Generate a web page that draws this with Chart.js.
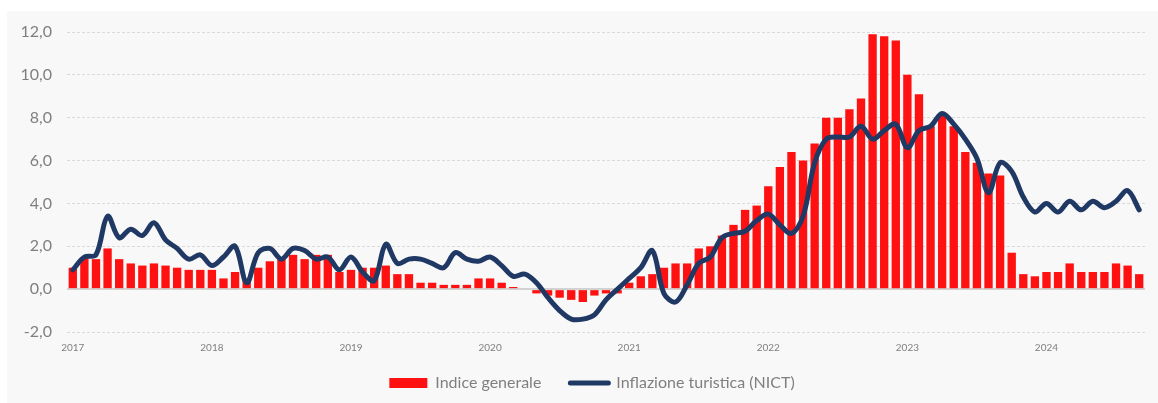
<!DOCTYPE html>
<html>
<head>
<meta charset="utf-8">
<script src="https://cdn.jsdelivr.net/npm/chart.js@4.4.1/dist/chart.umd.min.js"></script>
<style>
    html, body { margin: 0; padding: 0; background: #ffffff; }
    body { width: 1158px; height: 403px; overflow: hidden; position: relative; }
    #wrap { position: absolute; left: 7px; top: 11px; width: 1151px; height: 392px; background: #f8f8f8; }
</style>
</head>
<body>
<div id="wrap"><canvas id="myChart" width="1151" height="392"></canvas></div>
<script>
// years shown on the x axis (one label every 12 months)
let years = ['2017', '2018', '2019', '2020', '2021', '2022', '2023', '2024'];
let monthsInLastYear = 9; // data stops in Sep 2024

// Indice generale (bars), monthly, Jan 2017 - Sep 2024
let indiceGenerale = [
    1.0, 1.5, 1.4, 1.9, 1.4, 1.2, 1.1, 1.2, 1.1, 1.0, 0.9, 0.9,
    0.9, 0.5, 0.8, 0.5, 1.0, 1.3, 1.4, 1.6, 1.4, 1.6, 1.6, 0.8,
    0.9, 1.0, 1.0, 1.1, 0.7, 0.7, 0.3, 0.3, 0.2, 0.2, 0.2, 0.5,
    0.5, 0.3, 0.1, 0.0, -0.2, -0.3, -0.4, -0.5, -0.6, -0.3, -0.2, -0.2,
    0.3, 0.6, 0.7, 1.0, 1.2, 1.2, 1.9, 2.0, 2.5, 3.0, 3.7, 3.9,
    4.8, 5.7, 6.4, 6.0, 6.8, 8.0, 8.0, 8.4, 8.9, 11.9, 11.8, 11.6,
    10.0, 9.1, 7.6, 8.1, 7.6, 6.4, 5.9, 5.4, 5.3, 1.7, 0.7, 0.6,
    0.8, 0.8, 1.2, 0.8, 0.8, 0.8, 1.2, 1.1, 0.7
];

// Inflazione turistica (NICT), line
let inflazioneTuristica = [
    0.9, 1.5, 1.6, 3.4, 2.4, 2.8, 2.5, 3.1, 2.3, 1.9, 1.4, 1.6,
    1.1, 1.5, 2.0, 0.3, 1.7, 1.9, 1.4, 1.9, 1.8, 1.4, 1.5, 0.9,
    1.5, 0.8, 0.4, 2.1, 1.2, 1.4, 1.4, 1.2, 1.0, 1.7, 1.4, 1.3,
    1.5, 1.1, 0.6, 0.7, 0.3, -0.4, -1.0, -1.4, -1.4, -1.2, -0.5, 0.0,
    0.5, 1.0, 1.8, -0.2, -0.6, 0.2, 1.2, 1.5, 2.4, 2.6, 2.7, 3.2,
    3.5, 3.0, 2.6, 3.4, 5.9, 7.0, 7.1, 7.1, 7.6, 7.0, 7.4, 7.7,
    6.6, 7.4, 7.6, 8.2, 7.7, 7.0, 6.1, 4.5, 5.9, 5.5, 4.3, 3.6,
    4.0, 3.6, 4.1, 3.7, 4.1, 3.8, 4.1, 4.6, 3.7
];

let seriesNames = ['Indice generale', 'Inflazione turistica (NICT)'];

// one category per month
let categories = [];
years.forEach(function(y, i){
    let n = (i === years.length - 1) ? monthsInLastYear : 12;
    for (let m = 1; m <= n; m++){
        categories.push(y + '-' + (m < 10 ? '0' + m : m));
    }
});

let grey = '#7f7f7f';
Chart.defaults.font.family = 'Lato, "Open Sans", sans-serif';
Chart.defaults.color = grey;

// the Excel legend sits a bit right of the canvas centre and closer to the axis
let legendShift = {
    id: 'legendShift',
    afterLayout: function(chart){
        let lg = chart.legend;
        lg.left += 16;
        lg.right += 16;
        lg.top -= 12;
        lg.bottom -= 12;
    }
};

let ctx = document.getElementById('myChart').getContext('2d');
let myChart = new Chart(ctx, {
    data: {
        labels: categories,
        datasets: [{
            type: 'bar',
            label: seriesNames[0],
            data: indiceGenerale,
            backgroundColor: '#ff1111',
            borderWidth: 0,
            barPercentage: 0.72,
            categoryPercentage: 1.0,
            order: 1
        }, {
            type: 'line',
            label: seriesNames[1],
            data: inflazioneTuristica,
            borderColor: '#203864',
            backgroundColor: '#203864',
            borderWidth: 5,
            borderCapStyle: 'round',
            borderJoinStyle: 'round',
            pointRadius: 0,
            tension: 0.35,
            order: 0
        }]
    },
    plugins: [legendShift],
    options: {
        responsive: false,
        animation: false,
        layout: {
            padding: { left: 0, right: 13, top: 21, bottom: -10 }
        },
        plugins: {
            tooltip: { enabled: false },
            legend: {
                position: 'bottom',
                labels: {
                    usePointStyle: true,
                    pointStyleWidth: 38,
                    boxWidth: 38,
                    boxHeight: 10,
                    padding: 29,
                    color: grey,
                    font: { size: 16 },
                    sort: function(a, b){ return a.datasetIndex - b.datasetIndex; },
                    generateLabels: function(chart){
                        let items = Chart.defaults.plugins.legend.labels.generateLabels(chart);
                        items.forEach(function(item){
                            if (item.datasetIndex === 0){
                                item.pointStyle = 'rect';
                                item.lineWidth = 0;
                            } else {
                                item.pointStyle = 'line';
                                item.lineWidth = 5;
                                item.lineCap = 'round';
                            }
                        });
                        return items;
                    }
                }
            }
        },
        scales: {
            x: {
                grid: { display: false, drawTicks: false },
                border: { display: false },
                ticks: {
                    autoSkip: false,
                    maxRotation: 0,
                    padding: 10,
                    color: grey,
                    font: { size: 10 },
                    callback: function(value, index){
                        return index % 12 === 0 ? years[index / 12] : '';
                    }
                },
                afterFit: function(axis){ axis.height = 26; }
            },
            y: {
                min: -2,
                max: 12,
                ticks: {
                    stepSize: 2,
                    padding: 15,
                    color: grey,
                    font: { size: 16 },
                    callback: function(value){
                        return value.toFixed(1).replace('.', ',');
                    }
                },
                grid: {
                    drawTicks: false,
                    color: function(c){ return c.tick && c.tick.value === 0 ? '#d2d2d2' : '#dadada'; },
                    lineWidth: function(c){ return c.tick && c.tick.value === 0 ? 2 : 1; }
                },
                border: {
                    display: false,
                    dash: function(c){ return c.tick && c.tick.value === 0 ? [] : [3, 2]; }
                },
                afterFit: function(axis){
                    axis.width = 60;
                    axis.paddingTop = 0;
                    axis.paddingBottom = 0;
                }
            }
        }
    }
});
</script>
</body>
</html>
